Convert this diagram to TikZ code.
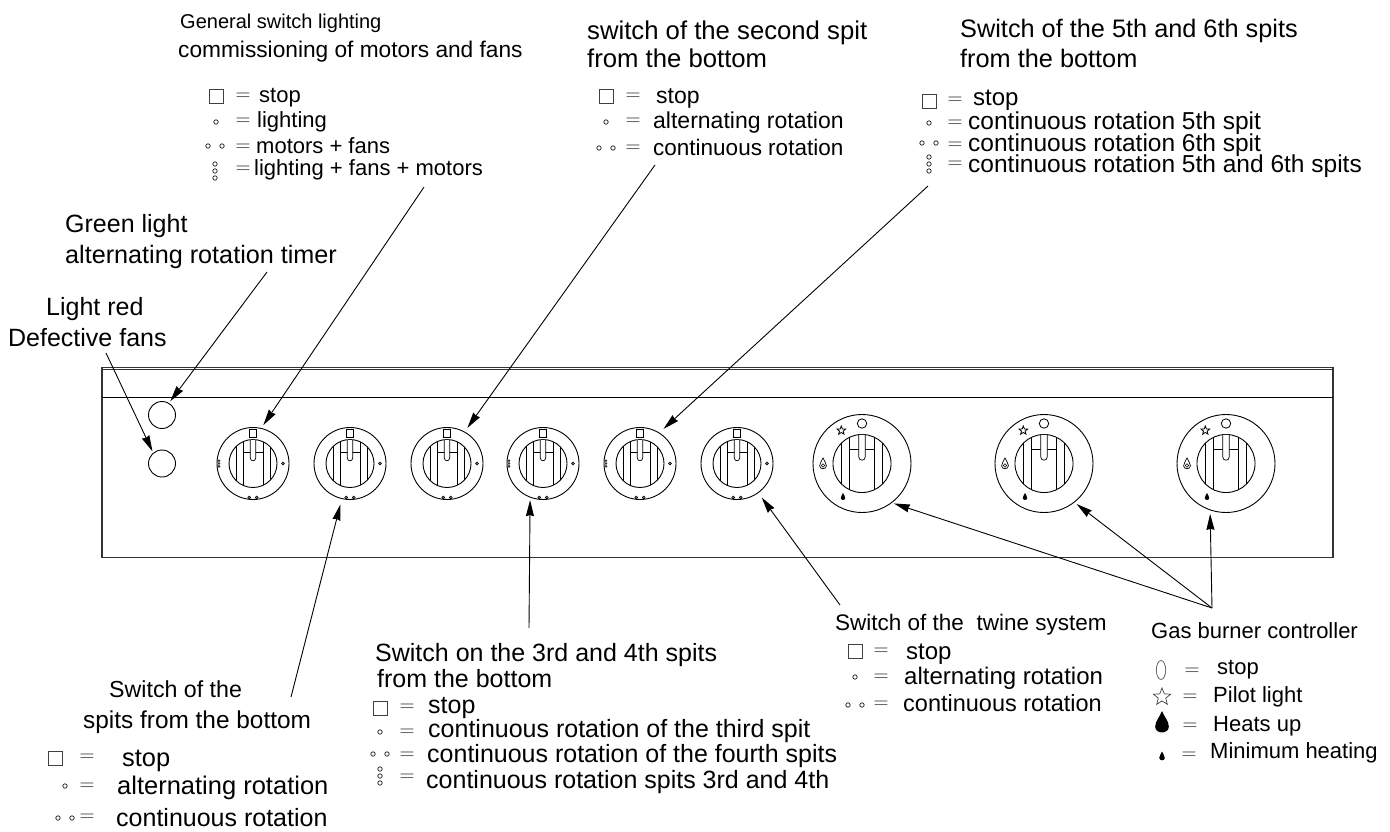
\documentclass[tikz,border=0pt]{standalone}
\usepackage{fontspec}
\setmainfont{Liberation Sans}
\usetikzlibrary{arrows.meta,shapes.geometric}
\tikzset{
    lab/.style={anchor=base west, inner sep=0pt, font=\fontsize{#1}{#1}\selectfont},
    eqsign/.style={inner sep=0pt, text=black!85, font=\fontsize{20}{20}\selectfont},
    arr/.style={-{Stealth[length=16pt,width=8pt,inset=1pt]}, line width=0.9pt, shorten >=#1},
    arr/.default=3pt,
    lamp/.style={circle, draw, line width=0.9pt, inner sep=0pt, outer sep=0pt, minimum size=27pt},
    ring/.style={circle, draw, line width=0.9pt, inner sep=0pt, outer sep=0pt, minimum size=#1},
    starsym/.style={star, star points=5, star point ratio=2.3, draw, inner sep=0pt, outer sep=0pt, minimum size=#1},
    symsq/.pic={\draw[black!75, line width=0.9pt] (-7,-7) rectangle (7,7);},
    dotone/.pic={\draw[black!80, line width=0.8pt] (0,0) circle (2.2pt);},
    dottwo/.pic={\draw[black!80, line width=0.8pt] (-7,0) circle (2.2pt) (7,0) circle (2.2pt);},
    dotthree/.pic={\draw[black!80, line width=0.8pt] (0,-7) circle (2.2pt) (0,0) circle (2.2pt) (0,7) circle (2.2pt);},
    flame/.pic={\path[pic actions] (0,-1) .. controls (0.2,-0.45) and (0.62,-0.1) .. (0.62,0.42)
        .. controls (0.62,0.78) and (0.3,0.95) .. (0,0.95)
        .. controls (-0.3,0.95) and (-0.62,0.78) .. (-0.62,0.42)
        .. controls (-0.62,-0.1) and (-0.2,-0.45) .. (0,-1) -- cycle;},
    handle/.pic={
        \begin{scope}
            \clip (0,0) circle (24pt);
            \draw[line width=0.9pt] (-17,-30) -- (-17,30) (-10,-30) -- (-10,30) (10,-30) -- (10,30) (17,-30) -- (17,30);
            \draw[line width=0.9pt] (-10,-11.5) -- (10,-11.5);
        \end{scope}
        \draw[line width=0.9pt] (0,0) circle (24pt);
        \draw[fill=white, line width=0.7pt] (-2.7,-23.7) -- (-2.7,-5.5) .. controls (-2.7,-1.8) and (2.7,-1.8) .. (2.7,-5.5) -- (2.7,-23.7);
    },
    knob/.pic={
        \node[ring=72pt] (-ring) at (0,0) {};
        \pic at (0,0) {handle};
        \draw[line width=0.8pt] (-3.7,-33.7) rectangle (3.7,-26.3);
        \draw[fill=black!50, line width=0.5pt] (30,0) circle (1.5pt) (-3.7,34) circle (1.5pt) (3.7,34) circle (1.5pt);
    },
    gasknob/.pic={
        \node[ring=98pt] (-ring) at (0,0) {};
        \pic[scale=1.21] at (0,0) {handle};
        \draw[line width=0.8pt] (0,-40) circle (4.7pt);
        \node[starsym=9pt, line width=0.8pt] (-star) at (-20.7,-33) {};
        \pic[draw, line width=0.7pt, scale=5.5] at (-39,0) {flame};
        \draw[line width=0.6pt] (-39,2) circle (1.7pt);
        \pic[fill=black, scale=3.6] at (-19,33) {flame};
    },
}
\begin{document}
\begin{tikzpicture}[x=1pt, y=-1pt]
    \useasboundingbox (0,0) rectangle (1390,831);
    % panel
    \draw[line width=1.3pt, black!80] (102,367.5) rectangle (1333,557.5);
    \draw[line width=0.7pt, black!80] (102,369.5) -- (1333,369.5);
    \draw[line width=0.9pt] (102,397.5) -- (1333,397.5);
    \node[lamp] (lamp1) at (162,415) {};
    \node[lamp] (lamp2) at (162,463.5) {};
    \pic (k1) at (253,463.5) {knob};
    \pic (k2) at (350,463.5) {knob};
    \pic (k3) at (447,463.5) {knob};
    \pic (k4) at (543,463.5) {knob};
    \pic (k5) at (640,463.5) {knob};
    \pic (k6) at (737,463.5) {knob};
    \pic[scale=0.4] at (219,463.5) {dotthree};
    \pic[scale=0.4] at (509,463.5) {dotthree};
    \pic[scale=0.4] at (606,463.5) {dotthree};
    \pic (g1) at (862,463.5) {gasknob};
    \pic (g2) at (1044,463.5) {gasknob};
    \pic (g3) at (1226,463.5) {gasknob};

    % general switch
    \node[lab=20] (gen1) at (180,28) {General switch lighting};
    \node[lab=22.7] (gen2) at (178,57) {commissioning of motors and fans};
    \pic at (216,96) {symsq};
    \node[eqsign] (eqa1) at (243,97) {$=$};
    \node[lab=22] (gena) at (259,102) {stop};
    \pic at (216,122) {dotone};
    \node[eqsign] (eqa2) at (243,122) {$=$};
    \node[lab=22] (genb) at (257,127) {lighting};
    \pic at (215,146) {dottwo};
    \node[eqsign] (eqa3) at (243,148) {$=$};
    \node[lab=22] (genc) at (256,153) {motors + fans};
    \pic at (215,171) {dotthree};
    \node[eqsign] (eqa4) at (243,170) {$=$};
    \node[lab=22] (gend) at (254,175) {lighting + fans + motors};

    % second spit
    \node[lab=25.7] (sec1) at (587,39) {switch of the second spit};
    \node[lab=25.7] (sec2) at (587,67) {from the bottom};
    \pic at (606,96) {symsq};
    \node[eqsign] (eqb1) at (633,97) {$=$};
    \node[lab=23] (seca) at (656,103) {stop};
    \pic at (606,122) {dotone};
    \node[eqsign] (eqb2) at (633,122) {$=$};
    \node[lab=23] (secb) at (653,128) {alternating rotation};
    \pic at (606,148) {dottwo};
    \node[eqsign] (eqb3) at (633,149) {$=$};
    \node[lab=22.5] (secc) at (653,155) {continuous rotation};

    % 5th and 6th spits
    \node[lab=25.3] (fif1) at (960,37) {Switch of the 5th and 6th spits};
    \node[lab=25.3] (fif2) at (960,67) {from the bottom};
    \pic at (929,101) {symsq};
    \node[eqsign] (eqc1) at (955,101) {$=$};
    \node[lab=24] (fifa) at (973,105) {stop};
    \pic at (929,123) {dotone};
    \node[eqsign] (eqc2) at (955,124) {$=$};
    \node[lab=24.5] (fifb) at (968,129) {continuous rotation 5th spit};
    \pic at (929,143) {dottwo};
    \node[eqsign] (eqc3) at (955,146) {$=$};
    \node[lab=24.5] (fifc) at (968,151) {continuous rotation 6th spit};
    \pic at (929,164) {dotthree};
    \node[eqsign] (eqc4) at (955,165) {$=$};
    \node[lab=24.5] (fifd) at (968,172) {continuous rotation 5th and 6th spits};

    % lights
    \node[lab=25] (grn1) at (65,232) {Green light};
    \node[lab=25.2] (grn2) at (65,263) {alternating rotation timer};
    \node[lab=25] (red1) at (46,315) {Light red};
    \node[lab=25] (red2) at (8,346) {Defective fans};

    % bottom spits
    \node[lab=23.2] (bot1) at (109,697) {Switch of the};
    \node[lab=24.4] (bot2) at (83,728) {spits from the bottom};
    \pic at (55,758) {symsq};
    \node[eqsign] (eqd1) at (87,758) {$=$};
    \node[lab=25.4] (bota) at (122,766) {stop};
    \pic at (65,786) {dotone};
    \node[eqsign] (eqd2) at (87,787) {$=$};
    \node[lab=25.5] (botb) at (117,794) {alternating rotation};
    \pic at (65,818) {dottwo};
    \node[eqsign] (eqd3) at (87,818) {$=$};
    \node[lab=25] (botc) at (116,826) {continuous rotation};

    % 3rd and 4th spits
    \node[lab=25] (thd1) at (375,661) {Switch on the 3rd and 4th spits};
    \node[lab=25] (thd2) at (377,687) {from the bottom};
    \pic at (380,708) {symsq};
    \node[eqsign] (eqe1) at (407,708) {$=$};
    \node[lab=25] (thda) at (428,713) {stop};
    \pic at (380,732) {dotone};
    \node[eqsign] (eqe2) at (407,733) {$=$};
    \node[lab=25] (thdb) at (428,737) {continuous rotation of the third spit};
    \pic at (380,754) {dottwo};
    \node[eqsign] (eqe3) at (407,756) {$=$};
    \node[lab=25] (thdc) at (427,762) {continuous rotation of the fourth spits};
    \pic at (380,776) {dotthree};
    \node[eqsign] (eqe4) at (407,778) {$=$};
    \node[lab=25] (thdd) at (426,788) {continuous rotation spits 3rd and 4th};

    % twine
    \node[lab=22.5] (twn1) at (835,630) {Switch of the\ \ twine system};
    \pic at (855,651) {symsq};
    \node[eqsign] (eqf1) at (881,652) {$=$};
    \node[lab=24] (twna) at (906,659) {stop};
    \pic at (855,677) {dotone};
    \node[eqsign] (eqf2) at (881,678) {$=$};
    \node[lab=24] (twnb) at (904,684) {alternating rotation};
    \pic at (855,705) {dottwo};
    \node[eqsign] (eqf3) at (881,705) {$=$};
    \node[lab=23.5] (twnc) at (903,711) {continuous rotation};

    % gas burner
    \node[lab=22] (gas1) at (1151,638) {Gas burner controller};
    \draw[black!60, line width=0.8pt] (1161,670) ellipse (4.7pt and 9.5pt);
    \node[eqsign] (eqg1) at (1192,672) {$=$};
    \node[lab=22] (gasa) at (1217,674) {stop};
    \node[starsym=18pt, draw=black!75, line width=0.7pt] (gasstar) at (1162,697) {};
    \node[eqsign] (eqg2) at (1190,698) {$=$};
    \node[lab=22] (gasb) at (1213,702) {Pilot light};
    \pic[fill=black, scale=11] at (1162,722) {flame};
    \node[eqsign] (eqg3) at (1190,727) {$=$};
    \node[lab=22] (gasc) at (1213,731) {Heats up};
    \pic[fill=black, scale=4.5] at (1162,756) {flame};
    \node[eqsign] (eqg4) at (1189,756) {$=$};
    \node[lab=22] (gasd) at (1210,758) {Minimum heating};

    % arrows
    \coordinate (fromgreen) at (267,272);
    \coordinate (fromred) at (106,353);
    \coordinate (fromgen) at (424,187);
    \coordinate (fromsec) at (655,165);
    \coordinate (fromfif) at (928,186);
    \coordinate (frombot) at (291,697);
    \coordinate (fromthd) at (529,628);
    \coordinate (fromtwn) at (840,605);
    \coordinate (fromgas) at (1212,608);
    \draw[arr=2.5pt] (fromgreen) -- (lamp1.60);
    \draw[arr=2pt] (fromred) -- (lamp2.130);
    \draw[arr=4pt] (fromgen) -- (k1-ring.77);
    \draw[arr=5pt] (fromsec) -- (k3-ring.61);
    \draw[arr=6pt] (fromfif) -- (k5-ring.58);
    \draw[arr=6pt] (frombot) -- (k2-ring.257);
    \draw[arr=3pt] (fromthd) -- (k4-ring.249);
    \draw[arr=6pt] (fromtwn) -- (k6-ring.306);
    \draw[arr=2.5pt] (fromgas) -- (g1-ring.307);
    \draw[arr=3pt] (fromgas) -- (g2-ring.308);
    \draw[arr=4pt] (fromgas) -- (g3-ring.251);
\end{tikzpicture}
\end{document}
